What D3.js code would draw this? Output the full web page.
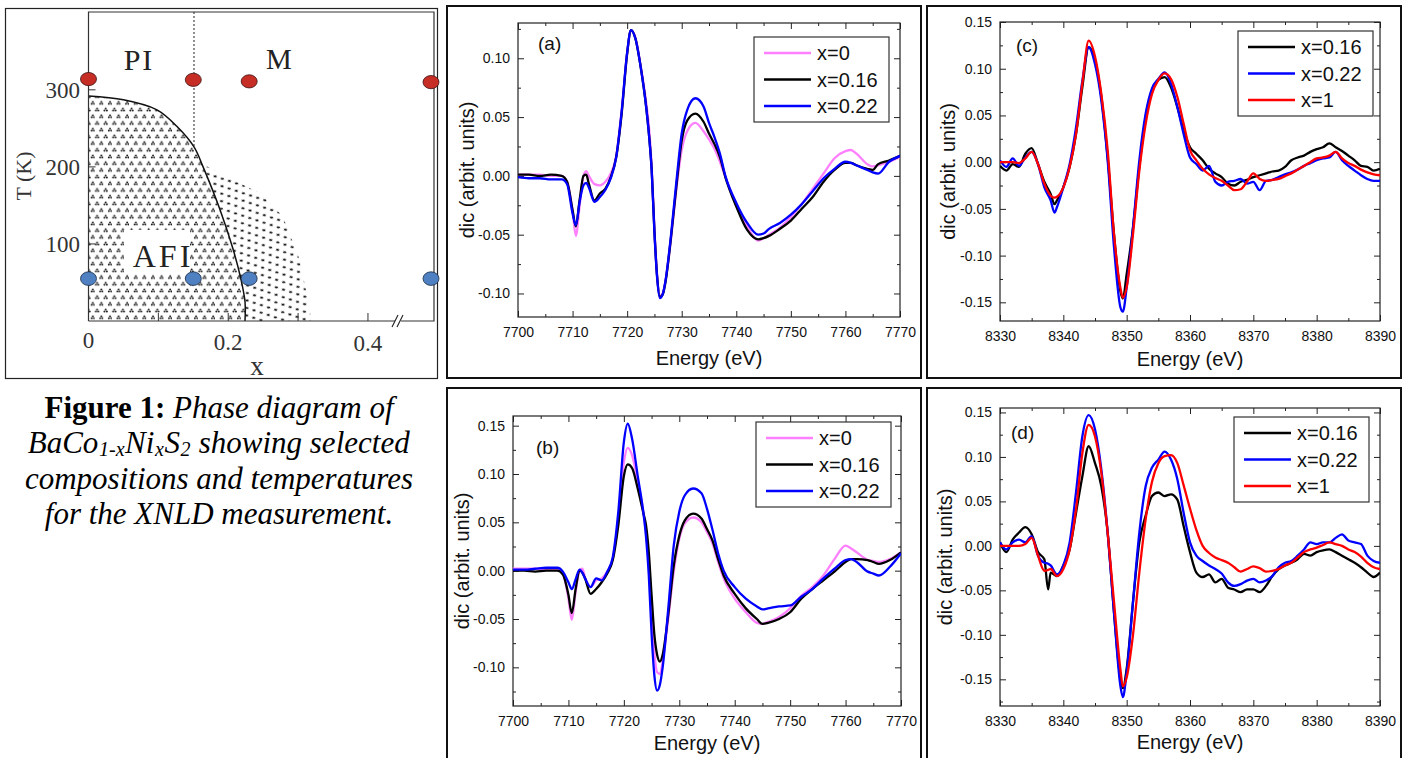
<!DOCTYPE html>
<html>
<head>
<meta charset="utf-8">
<script src="https://cdn.jsdelivr.net/npm/d3@7"></script>
<style>
  body { margin: 0; background: #fff; }
  text { font-family: "Liberation Sans", Arial, sans-serif; }
  .serif { font-family: "Liberation Serif", "Times New Roman", serif; }
</style>
</head>
<body>
<svg id="fig" width="1409" height="758"></svg>
<script>
// ---------- Data ----------

// Phase diagram (BaCo1-xNixS2)
var phaseX = [0, 0.15, 0.23, 1];
var redT = [314, 313, 311, 310];
var blueT = [55, 55, 55, 55];
var boundaryX = [0, 0.05, 0.098, 0.126, 0.151, 0.164, 0.188, 0.207, 0.218, 0.224, 0.224];
var boundaryT = [292, 287, 274, 253, 226, 200, 145, 93, 55, 25, 0];
var fringeX = [0.16, 0.207, 0.245, 0.278, 0.302, 0.317, 0.318];
var fringeT = [205, 183, 166, 136, 80, 15, 0];
var phaseXTicks = [0, 0.2, 0.4];
var phaseTTicks = [100, 200, 300];

// Co K edge, panels (a) and (b)
var energyAB = [7700, 7702, 7704, 7706, 7708, 7709, 7710, 7710.6, 7711.3, 7712, 7712.5, 7713, 7714, 7715, 7716, 7717, 7718, 7719, 7720, 7720.7, 7721.5, 7722.5, 7723.5, 7724, 7724.5, 7725, 7725.5, 7726, 7726.5, 7727, 7728, 7729, 7730, 7731, 7732.5, 7734, 7735, 7736, 7737, 7738, 7740, 7742, 7744, 7745, 7746, 7748, 7750, 7752, 7754, 7756, 7758, 7760, 7761, 7762, 7764, 7765, 7766, 7768, 7770];

var a_x0 = [0.001, 0.001, 0.001, 0.000, 0.000, -0.005, -0.030, -0.051, -0.025, 0.000, 0.004, 0.000, -0.007, -0.008, -0.005, 0.002, 0.017, 0.056, 0.104, 0.124, 0.118, 0.093, 0.062, 0.042, 0.008, -0.045, -0.085, -0.102, -0.100, -0.090, -0.055, -0.012, 0.022, 0.038, 0.045, 0.038, 0.031, 0.023, 0.012, -0.001, -0.024, -0.043, -0.055, -0.053, -0.050, -0.044, -0.035, -0.024, -0.011, 0.002, 0.015, 0.021, 0.022, 0.019, 0.010, 0.008, 0.009, 0.012, 0.016];
var a_x016 = [0.001, 0.001, 0.000, 0.001, 0.000, -0.005, -0.029, -0.043, -0.020, 0.000, 0.001, -0.007, -0.021, -0.015, -0.011, -0.001, 0.016, 0.053, 0.104, 0.124, 0.117, 0.092, 0.058, 0.035, 0.005, -0.047, -0.086, -0.103, -0.101, -0.091, -0.054, -0.010, 0.030, 0.047, 0.053, 0.046, 0.036, 0.027, 0.016, -0.001, -0.026, -0.046, -0.054, -0.053, -0.051, -0.045, -0.038, -0.028, -0.018, -0.005, 0.005, 0.011, 0.011, 0.009, 0.006, 0.005, 0.010, 0.013, 0.017];
var a_x022 = [-0.001, -0.002, -0.002, -0.003, -0.003, -0.007, -0.032, -0.042, -0.022, -0.008, -0.006, -0.010, -0.022, -0.018, -0.012, -0.002, 0.016, 0.055, 0.105, 0.124, 0.117, 0.092, 0.058, 0.035, 0.004, -0.048, -0.087, -0.104, -0.101, -0.090, -0.052, -0.006, 0.036, 0.056, 0.066, 0.059, 0.045, 0.033, 0.019, 0.000, -0.023, -0.040, -0.050, -0.049, -0.045, -0.040, -0.033, -0.024, -0.013, -0.002, 0.006, 0.012, 0.011, 0.009, 0.005, 0.003, 0.002, 0.012, 0.017];

var b_x0 = [0.002, 0.002, 0.002, 0.002, 0.001, -0.003, -0.029, -0.051, -0.022, 0.000, 0.002, -0.007, -0.017, -0.010, -0.008, -0.001, 0.012, 0.054, 0.112, 0.127, 0.119, 0.092, 0.061, 0.040, 0.009, -0.039, -0.084, -0.105, -0.107, -0.094, -0.050, -0.001, 0.033, 0.049, 0.055, 0.050, 0.040, 0.028, 0.009, -0.008, -0.029, -0.043, -0.054, -0.055, -0.053, -0.048, -0.039, -0.026, -0.017, -0.005, 0.012, 0.026, 0.023, 0.019, 0.011, 0.010, 0.009, 0.012, 0.019];
var b_x016 = [0.000, 0.000, -0.001, 0.000, 0.000, -0.004, -0.025, -0.044, -0.019, 0.000, -0.002, -0.008, -0.024, -0.019, -0.012, -0.003, 0.011, 0.047, 0.098, 0.110, 0.106, 0.085, 0.060, 0.047, 0.019, -0.025, -0.066, -0.087, -0.094, -0.087, -0.046, 0.005, 0.036, 0.052, 0.059, 0.054, 0.043, 0.031, 0.012, -0.005, -0.024, -0.039, -0.050, -0.055, -0.054, -0.050, -0.043, -0.029, -0.019, -0.010, -0.001, 0.009, 0.012, 0.012, 0.011, 0.009, 0.007, 0.011, 0.019];
var b_x022 = [0.001, 0.001, 0.002, 0.003, 0.003, -0.001, -0.012, -0.019, -0.009, 0.001, -0.002, -0.008, -0.017, -0.008, -0.010, -0.001, 0.014, 0.061, 0.133, 0.152, 0.136, 0.098, 0.061, 0.035, -0.005, -0.065, -0.108, -0.124, -0.118, -0.100, -0.040, 0.026, 0.061, 0.078, 0.085, 0.080, 0.064, 0.042, 0.018, 0.000, -0.017, -0.029, -0.037, -0.040, -0.039, -0.037, -0.036, -0.027, -0.019, -0.008, 0.002, 0.011, 0.012, 0.009, -0.001, -0.003, -0.005, 0.004, 0.018];

// Ni K edge, panel (c)
var energyC = [8330, 8331, 8332, 8333, 8334, 8335, 8336, 8337, 8338, 8338.6, 8339, 8340, 8341, 8342, 8343, 8344, 8345, 8346, 8347, 8348, 8349, 8349.4, 8350, 8351, 8352, 8353, 8354, 8355, 8356, 8357, 8358, 8359, 8360, 8361, 8362, 8363, 8364, 8365, 8366, 8367, 8368, 8369, 8370, 8371, 8372, 8373, 8374, 8375, 8376, 8377, 8378, 8379, 8380, 8381, 8382, 8383, 8384, 8385, 8386, 8387, 8388, 8389, 8390];
var c_x016 = [-0.004, -0.009, -0.002, -0.005, 0.009, 0.015, -0.002, -0.021, -0.034, -0.045, -0.041, -0.027, -0.005, 0.030, 0.080, 0.123, 0.109, 0.070, 0.005, -0.077, -0.138, -0.146, -0.120, -0.070, -0.005, 0.048, 0.077, 0.088, 0.091, 0.080, 0.059, 0.034, 0.016, 0.009, 0.002, -0.007, -0.012, -0.016, -0.023, -0.025, -0.021, -0.019, -0.016, -0.014, -0.012, -0.010, -0.009, -0.005, 0.002, 0.005, 0.007, 0.011, 0.014, 0.016, 0.020, 0.016, 0.012, 0.007, 0.002, -0.004, -0.005, -0.009, -0.007];
var c_x022 = [0.002, -0.005, 0.004, -0.004, 0.005, 0.011, -0.002, -0.027, -0.041, -0.054, -0.048, -0.027, -0.002, 0.037, 0.087, 0.123, 0.105, 0.066, 0.002, -0.091, -0.155, -0.160, -0.134, -0.070, 0.002, 0.052, 0.079, 0.089, 0.096, 0.084, 0.059, 0.030, 0.005, -0.002, -0.009, -0.004, -0.021, -0.025, -0.021, -0.020, -0.018, -0.023, -0.021, -0.030, -0.020, -0.019, -0.016, -0.013, -0.011, -0.008, -0.004, -0.001, 0.002, 0.004, 0.005, 0.011, 0.002, -0.004, -0.009, -0.014, -0.018, -0.020, -0.020];
var c_x1 = [0.000, 0.000, 0.000, -0.001, 0.004, 0.011, -0.002, -0.023, -0.036, -0.038, -0.037, -0.027, -0.005, 0.030, 0.084, 0.130, 0.113, 0.073, 0.013, -0.077, -0.134, -0.145, -0.134, -0.077, -0.009, 0.041, 0.073, 0.088, 0.095, 0.089, 0.070, 0.041, 0.013, 0.002, -0.007, -0.013, -0.017, -0.020, -0.025, -0.030, -0.029, -0.021, -0.012, -0.018, -0.020, -0.019, -0.018, -0.015, -0.012, -0.008, -0.004, 0.000, 0.004, 0.005, 0.007, 0.011, 0.004, -0.001, -0.004, -0.008, -0.011, -0.013, -0.014];

// Ni K edge, panel (d)
var energyD = [8330, 8331, 8332, 8333, 8334, 8335, 8336, 8337, 8337.6, 8338, 8339, 8340, 8341, 8342, 8343, 8344, 8345, 8346, 8347, 8348, 8349, 8349.4, 8350, 8351, 8352, 8353, 8354, 8355, 8356, 8357, 8358, 8359, 8360, 8361, 8362, 8363, 8364, 8365, 8366, 8367, 8368, 8369, 8370, 8371, 8372, 8373, 8374, 8375, 8376, 8377, 8378, 8379, 8380, 8381, 8382, 8383, 8384, 8385, 8386, 8387, 8388, 8389, 8390];
var d_x016 = [0.004, -0.007, 0.007, 0.015, 0.021, 0.013, -0.007, -0.015, -0.049, -0.030, -0.034, -0.022, -0.004, 0.037, 0.078, 0.112, 0.093, 0.067, 0.015, -0.075, -0.149, -0.160, -0.138, -0.063, 0.004, 0.034, 0.056, 0.060, 0.056, 0.058, 0.052, 0.022, -0.007, -0.030, -0.035, -0.032, -0.041, -0.037, -0.047, -0.049, -0.052, -0.049, -0.049, -0.052, -0.045, -0.034, -0.026, -0.022, -0.019, -0.015, -0.009, -0.011, -0.007, -0.005, -0.004, -0.007, -0.011, -0.015, -0.019, -0.024, -0.030, -0.035, -0.030];
var d_x022 = [0.004, -0.004, 0.004, 0.007, 0.004, 0.011, -0.011, -0.019, -0.020, -0.022, -0.032, -0.022, 0.004, 0.060, 0.123, 0.147, 0.131, 0.086, 0.015, -0.075, -0.157, -0.170, -0.142, -0.063, 0.015, 0.067, 0.088, 0.097, 0.106, 0.097, 0.075, 0.037, 0.004, -0.011, -0.017, -0.022, -0.026, -0.031, -0.041, -0.045, -0.043, -0.039, -0.037, -0.041, -0.039, -0.034, -0.024, -0.019, -0.017, -0.011, -0.004, 0.004, 0.002, 0.004, 0.004, 0.009, 0.013, 0.006, 0.004, 0.002, -0.011, -0.017, -0.019];
var d_x1 = [0.000, 0.000, 0.000, 0.000, 0.002, 0.009, -0.011, -0.028, -0.027, -0.026, -0.034, -0.026, -0.004, 0.041, 0.104, 0.136, 0.123, 0.082, 0.015, -0.063, -0.138, -0.158, -0.148, -0.100, -0.030, 0.030, 0.072, 0.093, 0.101, 0.102, 0.093, 0.068, 0.042, 0.018, 0.000, -0.008, -0.013, -0.016, -0.019, -0.024, -0.029, -0.026, -0.023, -0.025, -0.029, -0.028, -0.026, -0.022, -0.019, -0.013, -0.007, -0.004, -0.002, 0.001, 0.004, 0.002, 0.000, -0.004, -0.007, -0.012, -0.019, -0.024, -0.026];

var coTicksX = [7700, 7710, 7720, 7730, 7740, 7750, 7760, 7770];
var niTicksX = [8330, 8340, 8350, 8360, 8370, 8380, 8390];

// colours
var PINK = "#ff80ff", BLACK = "#000000", BLUE = "#0000ff", RED = "#ff0000";

let d3 = window.d3;
let svg = d3.select("#fig");

// ---------- Phase diagram ----------
let drawPhase = function () {
  let g = svg.append("g");

  // outer figure box
  g.append("rect").attr("x", 5.5).attr("y", 8.5).attr("width", 432).attr("height", 370)
    .attr("fill", "none").attr("stroke", "#222").attr("stroke-width", 1.2);

  // x has a break before x = 1
  let xs = d3.scaleLinear().domain([0, 0.443, 1]).range([88.5, 398, 431]);
  let ts = d3.scaleLinear().domain([0, 401]).range([321, 12]);
  let right = xs(1) + 3;

  let defs = svg.append("defs");
  // dense AFI dots (little three-dot clusters)
  let p1 = defs.append("pattern").attr("id", "afiDots").attr("patternUnits", "userSpaceOnUse")
    .attr("width", 8.6).attr("height", 13.4);
  [[2.5, 2.5], [6.8, 9.2]].forEach(function (c) {
    [[0, -1.1], [-1.2, 0.8], [1.2, 0.8]].forEach(function (o) {
      p1.append("circle").attr("cx", c[0] + o[0]).attr("cy", c[1] + o[1]).attr("r", 0.95)
        .attr("fill", "#111");
    });
  });
  // sparse dashes in the fringe region
  let p2 = defs.append("pattern").attr("id", "fringeDash").attr("patternUnits", "userSpaceOnUse")
    .attr("width", 9).attr("height", 12).attr("patternTransform", "rotate(-35)");
  p2.append("line").attr("x1", 2).attr("y1", 3).attr("x2", 4.2).attr("y2", 4.8)
    .attr("stroke", "#111").attr("stroke-width", 1.8);
  p2.append("line").attr("x1", 6.5).attr("y1", 9).attr("x2", 8.7).attr("y2", 10.8)
    .attr("stroke", "#111").attr("stroke-width", 1.8);

  let boundary = boundaryX.map((x, i) => [x, boundaryT[i]]);

  // fringe region: outer edge, then back up along the AFI boundary
  let inner = boundary.filter((p) => p[1] <= 205).reverse();
  let fringe = fringeX.map((x, i) => [x, fringeT[i]]).concat([[0.224, 0]]).concat(inner);
  g.append("path")
    .attr("d", d3.line().x((d) => xs(d[0])).y((d) => ts(d[1])).curve(d3.curveLinearClosed)(fringe))
    .attr("fill", "url(#fringeDash)");

  // AFI region
  let afiLine = d3.line().x((d) => xs(d[0])).y((d) => ts(d[1])).curve(d3.curveCatmullRom);
  g.append("path").attr("d", afiLine(boundary) + `L${xs(0)},${ts(0)}Z`).attr("fill", "url(#afiDots)");

  // white box behind the AFI label
  g.append("rect").attr("x", 124).attr("y", 230).attr("width", 66).attr("height", 44).attr("fill", "#fff");

  // boundary line
  g.append("path").attr("d", afiLine(boundary)).attr("fill", "none")
    .attr("stroke", "#111").attr("stroke-width", 1.5);

  // dashed PI / M separation
  g.append("line").attr("x1", xs(0.151)).attr("x2", xs(0.151))
    .attr("y1", ts(401)).attr("y2", ts(226))
    .attr("stroke", "#222").attr("stroke-width", 1).attr("stroke-dasharray", "2,2");

  // frame
  g.append("path")
    .attr("d", `M${xs(0)},${ts(0)} V${ts(401)} H${right} V${ts(0)} H${xs(0.443) + 3}`)
    .attr("fill", "none").attr("stroke", "#333").attr("stroke-width", 1.2);
  g.append("line").attr("x1", xs(0)).attr("x2", xs(0.443) - 3).attr("y1", ts(0)).attr("y2", ts(0))
    .attr("stroke", "#333").attr("stroke-width", 1.2);
  // axis break
  [-3, 2].forEach(function (o) {
    g.append("line").attr("x1", xs(0.443) + o - 3).attr("y1", ts(0) + 6)
      .attr("x2", xs(0.443) + o + 3).attr("y2", ts(0) - 6)
      .attr("stroke", "#222").attr("stroke-width", 1.1);
  });

  // ticks
  [0.1, 0.2, 0.3, 0.4].forEach(function (t) {
    g.append("line").attr("x1", xs(t)).attr("x2", xs(t)).attr("y1", ts(0)).attr("y2", ts(0) - 8)
      .attr("stroke", "#333").attr("stroke-width", 1);
  });
  phaseTTicks.forEach(function (t) {
    g.append("line").attr("x1", xs(0)).attr("x2", xs(0) + 7).attr("y1", ts(t)).attr("y2", ts(t))
      .attr("stroke", "#333").attr("stroke-width", 1);
  });

  // tick labels
  g.selectAll(".tl").data(phaseTTicks).enter().append("text")
    .attr("class", "serif").attr("x", 80).attr("y", (d) => ts(d) + 8)
    .attr("text-anchor", "end").attr("font-size", 23).attr("fill", "#333")
    .text((d) => d);
  g.selectAll(".xl").data(phaseXTicks).enter().append("text")
    .attr("class", "serif").attr("x", (d) => xs(d)).attr("y", (d, i) => 348 + i * 1.5)
    .attr("text-anchor", "middle").attr("font-size", 23).attr("fill", "#333")
    .text((d) => d);

  // axis titles
  g.append("text").attr("class", "serif").attr("x", 257).attr("y", 375)
    .attr("text-anchor", "middle").attr("font-size", 27).attr("fill", "#333").text("x");
  g.append("text").attr("class", "serif")
    .attr("transform", "translate(31,176) rotate(-90)")
    .attr("text-anchor", "middle").attr("font-size", 22).attr("fill", "#333").text("T (K)");

  // region labels
  g.append("text").attr("class", "serif").attr("x", 139).attr("y", 70)
    .attr("text-anchor", "middle").attr("font-size", 30).attr("letter-spacing", 2).attr("fill", "#222").text("PI");
  g.append("text").attr("class", "serif").attr("x", 279).attr("y", 69)
    .attr("text-anchor", "middle").attr("font-size", 29).attr("fill", "#222").text("M");
  g.append("text").attr("class", "serif").attr("x", 163).attr("y", 267)
    .attr("text-anchor", "middle").attr("font-size", 32).attr("letter-spacing", 3).attr("fill", "#222").text("AFI");

  // measured points
  g.selectAll(".red").data(phaseX).enter().append("ellipse")
    .attr("cx", (d) => xs(d)).attr("cy", (d, i) => ts(redT[i]))
    .attr("rx", 8).attr("ry", 6.6)
    .attr("fill", "#c62d25").attr("stroke", "#3a1010").attr("stroke-width", 0.8);
  g.selectAll(".blue").data(phaseX).enter().append("ellipse")
    .attr("cx", (d) => xs(d)).attr("cy", (d, i) => ts(blueT[i]))
    .attr("rx", 8).attr("ry", 6.8)
    .attr("fill", "#4f81c2").attr("stroke", "#1c2c44").attr("stroke-width", 0.8);
};

// ---------- Caption ----------
let drawCaption = function () {
  let g = svg.append("g").attr("font-size", 31).attr("fill", "#000");
  let cx = 219;
  let t1 = g.append("text").attr("class", "serif").attr("x", cx).attr("y", 418).attr("text-anchor", "middle");
  t1.append("tspan").attr("font-weight", "bold").text("Figure 1:");
  t1.append("tspan").attr("font-style", "italic").text(" Phase diagram of");

  // chemical formula line: separate pieces laid out side by side, then centred
  let pieces = [["BaCo", 0], ["1-x", 1], ["Ni", 0], ["x", 1], ["S", 0], ["2", 1], ["showing selected", 0]];
  let f2 = g.append("g");
  let pos = 0;
  pieces.forEach(function (pc, i) {
    if (i == pieces.length - 1) pos += 7.5; // word space
    let t = f2.append("text").attr("class", "serif").attr("font-style", "italic")
      .attr("x", pos).attr("y", pc[1] ? 456 : 453)
      .attr("font-size", pc[1] ? 20 : 31).text(pc[0]);
    pos += t.node().getComputedTextLength() + 0.6;
  });
  f2.attr("transform", `translate(${cx - pos / 2},0)`);

  g.append("text").attr("class", "serif").attr("x", cx).attr("y", 489)
    .attr("text-anchor", "middle").attr("font-style", "italic").text("compositions and temperatures");
  g.append("text").attr("class", "serif").attr("x", cx).attr("y", 524)
    .attr("text-anchor", "middle").attr("font-style", "italic").text("for the XNLD measurement.");
};

// ---------- Spectra panels ----------
let drawPanel = function (p) {
  let g = svg.append("g");

  // panel box
  g.append("rect").attr("x", p.box[0]).attr("y", p.box[1])
    .attr("width", p.box[2] - p.box[0]).attr("height", p.box[3] - p.box[1])
    .attr("fill", "none").attr("stroke", "#111").attr("stroke-width", 2);

  let x = d3.scaleLinear().domain(p.xDom).range([p.plot[0], p.plot[2]]);
  let y = d3.scaleLinear().domain(p.yDom).range([p.plot[3], p.plot[1]]);

  let clipId = "clip" + p.name;
  svg.append("clipPath").attr("id", clipId).append("rect")
    .attr("x", p.plot[0]).attr("y", p.plot[1])
    .attr("width", p.plot[2] - p.plot[0]).attr("height", p.plot[3] - p.plot[1]);

  // minor tick values
  let xMinor = d3.range(p.xDom[0] + 5, p.xDom[1], 10);
  let yMinor = d3.range(Math.ceil(p.yDom[0] / 0.025) * 0.025, p.yDom[1], 0.025)
    .filter((v) => Math.abs(Math.round(v / 0.05) * 0.05 - v) > 0.001);

  let axisStyle = function (sel) {
    sel.select(".domain").remove();
    sel.selectAll(".tick line").attr("stroke", "#222").attr("stroke-width", 1);
    sel.selectAll("text").attr("font-size", 14).attr("fill", "#111")
      .attr("font-family", "Liberation Sans, Arial, sans-serif");
  };
  let fmtY = (d) => (Math.abs(d) < 1e-9 ? 0 : d).toFixed(2);

  // bottom
  g.append("g").attr("transform", `translate(0,${p.plot[3]})`)
    .call(d3.axisBottom(x).tickValues(p.xTicks).tickSize(-6).tickPadding(10).tickFormat(d3.format("d")))
    .call(axisStyle);
  g.append("g").attr("transform", `translate(0,${p.plot[3]})`)
    .call(d3.axisBottom(x).tickValues(xMinor).tickSize(-3).tickFormat(""))
    .call(axisStyle);
  // top
  g.append("g").attr("transform", `translate(0,${p.plot[1]})`)
    .call(d3.axisTop(x).tickValues(p.xTicks).tickSize(-6).tickFormat(""))
    .call(axisStyle);
  g.append("g").attr("transform", `translate(0,${p.plot[1]})`)
    .call(d3.axisTop(x).tickValues(xMinor).tickSize(-3).tickFormat(""))
    .call(axisStyle);
  // left
  g.append("g").attr("transform", `translate(${p.plot[0]},0)`)
    .call(d3.axisLeft(y).tickValues(p.yTicks).tickSize(-6).tickPadding(p.yPad).tickFormat(fmtY))
    .call(axisStyle);
  g.append("g").attr("transform", `translate(${p.plot[0]},0)`)
    .call(d3.axisLeft(y).tickValues(yMinor).tickSize(-3).tickFormat(""))
    .call(axisStyle);
  // right
  g.append("g").attr("transform", `translate(${p.plot[2]},0)`)
    .call(d3.axisRight(y).tickValues(p.yTicks).tickSize(-6).tickFormat(""))
    .call(axisStyle);
  g.append("g").attr("transform", `translate(${p.plot[2]},0)`)
    .call(d3.axisRight(y).tickValues(yMinor).tickSize(-3).tickFormat(""))
    .call(axisStyle);

  // frame
  g.append("rect").attr("x", p.plot[0]).attr("y", p.plot[1])
    .attr("width", p.plot[2] - p.plot[0]).attr("height", p.plot[3] - p.plot[1])
    .attr("fill", "none").attr("stroke", "#222").attr("stroke-width", 1.2);

  // spectra
  let line = d3.line().x((d) => x(d[0])).y((d) => y(d[1])).curve(d3.curveMonotoneX);
  let lines = g.append("g").attr("clip-path", `url(#${clipId})`);
  p.series.forEach(function (s) {
    let pts = p.energy.map((e, i) => [e, s.vals[i]]);
    lines.append("path").attr("d", line(pts)).attr("fill", "none")
      .attr("stroke", s.color).attr("stroke-width", 2.3).attr("stroke-linejoin", "round");
  });

  // panel label
  g.append("text").attr("x", p.label[0]).attr("y", p.label[1])
    .attr("font-size", 19).attr("fill", "#111").text(p.tag);

  // legend
  let L = p.legend;
  g.append("rect").attr("x", L[0]).attr("y", L[1]).attr("width", 135).attr("height", 85)
    .attr("fill", "#fff").attr("stroke", "#333").attr("stroke-width", 1.2);
  p.series.forEach(function (s, i) {
    let ly = L[1] + 16 + i * 26.5;
    g.append("line").attr("x1", L[0] + 10).attr("x2", L[0] + 57).attr("y1", ly).attr("y2", ly)
      .attr("stroke", s.color).attr("stroke-width", 2.5);
    g.append("text").attr("x", L[0] + 63).attr("y", ly + 7).attr("font-size", 20)
      .attr("fill", "#111").text(s.name);
  });

  // axis titles
  g.append("text").attr("x", (p.plot[0] + p.plot[2]) / 2).attr("y", p.xTitleY)
    .attr("text-anchor", "middle").attr("font-size", 20).attr("fill", "#111").text("Energy (eV)");
  g.append("text")
    .attr("transform", `translate(${p.yTitleX},${(p.plot[1] + p.plot[3]) / 2}) rotate(-90)`)
    .attr("text-anchor", "middle").attr("font-size", 20).attr("fill", "#111").text("dic (arbit. units)");
};

drawPhase();
drawCaption();

drawPanel({
  name: "a", tag: "(a)", box: [447, 6, 921, 378], plot: [518, 23, 900, 317],
  xDom: [7700, 7770], yDom: [-0.12, 0.13], xTicks: coTicksX, yTicks: [-0.10, -0.05, 0, 0.05, 0.10],
  yPad: 8, energy: energyAB, label: [538, 50], legend: [754, 37], xTitleY: 365, yTitleX: 474,
  series: [{ name: "x=0", vals: a_x0, color: PINK }, { name: "x=0.16", vals: a_x016, color: BLACK },
           { name: "x=0.22", vals: a_x022, color: BLUE }]
});
drawPanel({
  name: "b", tag: "(b)", box: [447, 388, 921, 770], plot: [513, 416, 901, 706],
  xDom: [7700, 7770], yDom: [-0.14, 0.16], xTicks: coTicksX, yTicks: [-0.10, -0.05, 0, 0.05, 0.10, 0.15],
  yPad: 8, energy: energyAB, label: [536, 454], legend: [756, 422], xTitleY: 750, yTitleX: 469,
  series: [{ name: "x=0", vals: b_x0, color: PINK }, { name: "x=0.16", vals: b_x016, color: BLACK },
           { name: "x=0.22", vals: b_x022, color: BLUE }]
});
drawPanel({
  name: "c", tag: "(c)", box: [927, 6, 1401, 378], plot: [1000, 22, 1380, 321],
  xDom: [8330, 8390], yDom: [-0.17, 0.15], xTicks: niTicksX, yTicks: [-0.15, -0.10, -0.05, 0, 0.05, 0.10, 0.15],
  yPad: 8, energy: energyC, label: [1016, 52], legend: [1238, 31], xTitleY: 366, yTitleX: 955,
  series: [{ name: "x=0.16", vals: c_x016, color: BLACK }, { name: "x=0.22", vals: c_x022, color: BLUE },
           { name: "x=1", vals: c_x1, color: RED }]
});
drawPanel({
  name: "d", tag: "(d)", box: [927, 388, 1401, 770], plot: [1000, 408, 1380, 706],
  xDom: [8330, 8390], yDom: [-0.18, 0.155], xTicks: niTicksX, yTicks: [-0.15, -0.10, -0.05, 0, 0.05, 0.10, 0.15],
  yPad: 8, energy: energyD, label: [1011, 439], legend: [1234, 417], xTitleY: 749, yTitleX: 952,
  series: [{ name: "x=0.16", vals: d_x016, color: BLACK }, { name: "x=0.22", vals: d_x022, color: BLUE },
           { name: "x=1", vals: d_x1, color: RED }]
});
</script>
</body>
</html>
